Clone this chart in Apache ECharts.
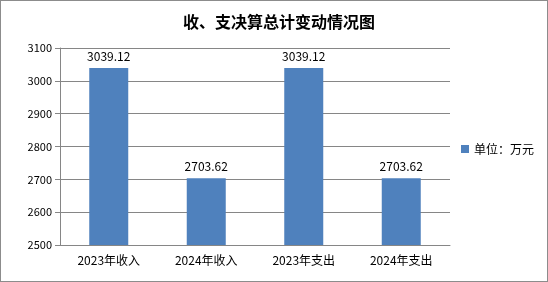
<!DOCTYPE html>
<html><head><meta charset="utf-8">
<script src="https://cdn.jsdelivr.net/npm/echarts@6/dist/echarts.min.js"></script>
<style>html,body{margin:0;padding:0;background:#fff}#c{width:548px;height:282px;box-sizing:border-box;border:1px solid #8c8c8c}</style>
</head><body><div id="c"></div>
<script>
const categories = ['2023年收入', '2024年收入', '2023年支出', '2024年支出'];
const values = [3039.12, 2703.62, 3039.12, 2703.62];
const seriesName = '单位：万元';
const yMin = 2500, yMax = 3100, yStep = 100;

const chart = echarts.init(document.getElementById('c'));
const font = '"Noto Sans CJK SC", "Noto Sans", sans-serif';
chart.setOption({
  animation: false,
  title: {
    text: '收、支决算总计变动情况图', left: 273, top: 8, textAlign: 'center',
    textStyle: { fontSize: 16, fontWeight: 'bold', color: '#000', fontFamily: font }
  },
  legend: {
    left: 455, top: 137, itemWidth: 8, itemHeight: 8, itemGap: 4,
    textStyle: { fontSize: 12, color: '#000', fontFamily: font },
    data: [{ name: seriesName, icon: 'rect' }]
  },
  grid: { left: 59, right: 97, top: 47, bottom: 36, containLabel: false },
  xAxis: {
    type: 'category', data: categories,
    axisLine: { lineStyle: { color: '#868686' } },
    axisTick: { lineStyle: { color: '#868686' }, length: 5 },
    axisLabel: { color: '#000', fontSize: 12, fontFamily: font, margin: 9 }
  },
  yAxis: {
    type: 'value', min: yMin, max: yMax, interval: yStep,
    axisLine: { show: true, lineStyle: { color: '#868686' } },
    axisTick: { show: true, lineStyle: { color: '#868686' }, length: 5 },
    axisLabel: { color: '#000', fontSize: 11, fontFamily: font, margin: 8, formatter: v => String(v) },
    splitLine: { lineStyle: { color: '#868686' } }
  },
  series: [{
    name: seriesName, type: 'bar', data: values, barWidth: '40%',
    itemStyle: { color: '#4f81bd' },
    label: { show: true, position: 'top', distance: 6, color: '#000', fontSize: 12, fontFamily: font }
  }]
});
</script></body></html>
